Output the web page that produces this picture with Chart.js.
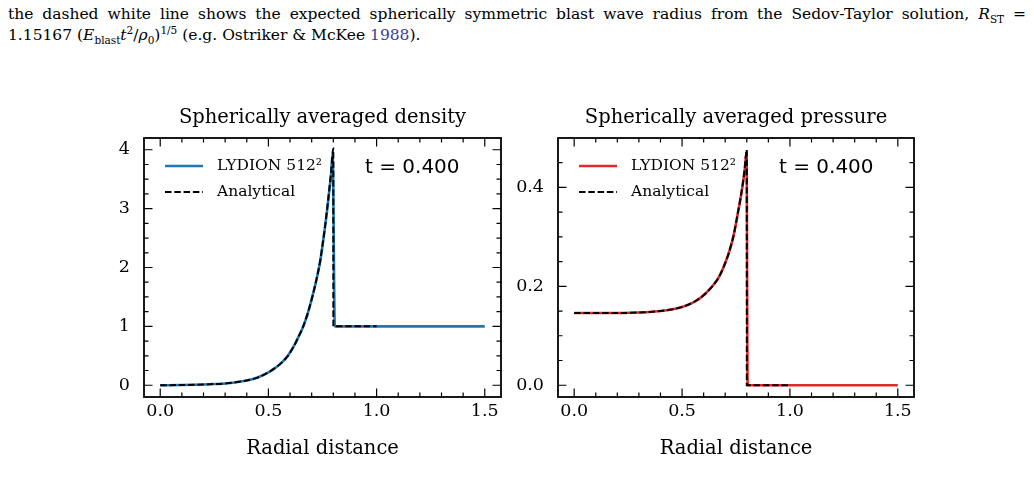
<!DOCTYPE html>
<html>
<head>
<meta charset="utf-8">
<script src="https://cdn.jsdelivr.net/npm/chart.js@4.4.0/dist/chart.umd.min.js"></script>
<style>
  body { margin: 0; width: 1034px; height: 487px; background: #fff; position: relative; overflow: hidden; }
  .cap { position: absolute; left: 8px; width: 1018px; font-family: "DejaVu Serif", serif; font-size: 15.5px; color: #000; white-space: nowrap; line-height: 20px; }
  .cap sub, .cap sup { font-size: 10.5px; line-height: 0; }
  .box { position: absolute; top: 98px; height: 370px; }
</style>
</head>
<body>
<div class="cap" style="top:4px; text-align:justify; text-align-last:justify;">the dashed white line shows the expected spherically symmetric blast wave radius from the Sedov-Taylor solution, <i>R</i><sub>ST</sub> =</div>
<div class="cap" style="top:25px;">1.15167 (<i>E</i><sub>blast</sub><i>t</i><sup>2</sup>/<i>ρ</i><sub>0</sub>)<sup>1/5</sup> (e.g. Ostriker &amp; McKee <span style="color:#3c3c9c">1988</span>).</div>

<div class="box" style="left:94px; width:420px;"><canvas id="density-chart"></canvas></div>
<div class="box" style="left:508px; width:419px;"><canvas id="pressure-chart"></canvas></div>

<script>
// tick labels
const radialTicks = [0, 0.5, 1.0, 1.5];
const densityTicks = [0, 1, 2, 3, 4];
const pressureTicks = [0.0, 0.2, 0.4];

// density, analytical (Sedov-Taylor)
const densityAnalyticX = [0, 0.1, 0.2, 0.25, 0.3, 0.35, 0.4, 0.45, 0.5, 0.53, 0.56, 0.59, 0.62, 0.64, 0.66, 0.68, 0.7, 0.72, 0.74, 0.75, 0.76, 0.77, 0.78, 0.79, 0.8, 0.8001, 1.0];
const densityAnalytic = [0, 0.003, 0.012, 0.02, 0.03, 0.05, 0.08, 0.13, 0.22, 0.29, 0.38, 0.5, 0.68, 0.83, 0.99, 1.2, 1.46, 1.76, 2.13, 2.38, 2.65, 2.95, 3.28, 3.63, 4.02, 1.0, 1.0];

// density, LYDION 512^2
const densitySimX = [0, 0.1, 0.2, 0.25, 0.3, 0.35, 0.4, 0.45, 0.5, 0.53, 0.56, 0.59, 0.62, 0.64, 0.66, 0.68, 0.7, 0.72, 0.74, 0.75, 0.76, 0.77, 0.78, 0.79, 0.797, 0.807, 1.0, 1.5];
const densitySim = [0, 0.003, 0.012, 0.02, 0.03, 0.05, 0.08, 0.13, 0.22, 0.29, 0.38, 0.5, 0.68, 0.83, 0.99, 1.2, 1.46, 1.76, 2.12, 2.37, 2.64, 2.93, 3.26, 3.6, 3.94, 1.0, 1.0, 1.0];

// pressure, analytical
const pressureAnalyticX = [0, 0.1, 0.2, 0.3, 0.35, 0.4, 0.45, 0.5, 0.55, 0.58, 0.61, 0.64, 0.67, 0.7, 0.72, 0.74, 0.76, 0.77, 0.78, 0.79, 0.8, 0.8001, 1.0];
const pressureAnalytic = [0.146, 0.146, 0.146, 0.147, 0.148, 0.15, 0.153, 0.158, 0.167, 0.175, 0.186, 0.2, 0.218, 0.247, 0.272, 0.305, 0.352, 0.376, 0.403, 0.436, 0.476, 0, 0];

// pressure, LYDION 512^2
const pressureSimX = [0, 0.1, 0.2, 0.3, 0.35, 0.4, 0.45, 0.5, 0.55, 0.58, 0.61, 0.64, 0.67, 0.7, 0.72, 0.74, 0.76, 0.77, 0.78, 0.79, 0.799, 0.804, 1.0, 1.5];
const pressureSim = [0.146, 0.146, 0.146, 0.147, 0.148, 0.15, 0.153, 0.158, 0.167, 0.175, 0.186, 0.2, 0.218, 0.247, 0.272, 0.305, 0.351, 0.375, 0.402, 0.434, 0.472, 0, 0, 0];

const serif = '"DejaVu Serif", serif';
const pts = (xs, ys) => xs.map((x, i) => ({ x, y: ys[i] }));

// axes frame with inward ticks on all sides, inset legend and time label
const framePlugin = {
  id: 'frame',
  afterDatasetsDraw(chart, args, opts) {
    const { ctx, chartArea: a, scales: { x, y } } = chart;
    ctx.save();
    ctx.strokeStyle = '#000';
    ctx.lineWidth = 1.2;
    ctx.beginPath();
    const xTick = (v, len) => {
      const px = x.getPixelForValue(v);
      ctx.moveTo(px, a.bottom); ctx.lineTo(px, a.bottom - len);
      ctx.moveTo(px, a.top); ctx.lineTo(px, a.top + len);
    };
    const yTick = (v, len) => {
      const py = y.getPixelForValue(v);
      ctx.moveTo(a.left, py); ctx.lineTo(a.left + len, py);
      ctx.moveTo(a.right, py); ctx.lineTo(a.right - len, py);
    };
    for (let k = Math.ceil(x.min / opts.xMinor); k * opts.xMinor <= x.max; k++) xTick(k * opts.xMinor, 4.5);
    for (let k = Math.ceil(y.min / opts.yMinor); k * opts.yMinor <= y.max; k++) yTick(k * opts.yMinor, 4.5);
    x.ticks.forEach(t => xTick(t.value, 8.5));
    y.ticks.forEach(t => yTick(t.value, 8.5));
    ctx.stroke();

    ctx.lineWidth = 1.8;
    ctx.strokeRect(a.left, a.top, a.width, a.height);

    // legend: simulation first, then analytical
    ctx.font = '15.5px ' + serif;
    ctx.textBaseline = 'middle';
    ctx.textAlign = 'left';
    ctx.fillStyle = '#000';
    [1, 0].forEach((di, row) => {
      const ds = chart.data.datasets[di];
      const ly = a.top + 28 + row * 26;
      ctx.save();
      ctx.strokeStyle = ds.borderColor;
      ctx.lineWidth = ds.borderWidth;
      ctx.setLineDash(ds.borderDash || []);
      ctx.beginPath();
      ctx.moveTo(a.left + 21, ly); ctx.lineTo(a.left + 59, ly);
      ctx.stroke();
      ctx.restore();
      ctx.fillText(ds.label, a.left + 73, ly);
    });

    ctx.font = '20px "DejaVu Sans", sans-serif';
    ctx.fillText(opts.label, a.left + 221, a.top + 29.5);
    ctx.restore();
  }
};

function makeChart(id, title, simX, sim, anX, an, color, yTicks, yMin, yMax, yMinor, yFmt) {
  return new Chart(id, {
    type: 'line',
    data: {
      datasets: [{
        label: 'Analytical',
        data: pts(anX, an),
        borderColor: '#000',
        borderWidth: 2,
        borderDash: [6.5, 2.8],
        pointRadius: 0,
        cubicInterpolationMode: 'monotone',
        order: 0,
      }, {
        label: 'LYDION 512²',
        data: pts(simX, sim),
        borderColor: color,
        borderWidth: 2.6,
        pointRadius: 0,
        cubicInterpolationMode: 'monotone',
        order: 1,
      }],
    },
    options: {
      responsive: true,
      maintainAspectRatio: false,
      animation: false,
      layout: { padding: { right: 13 } },
      scales: {
        x: {
          type: 'linear',
          min: -0.075,
          max: 1.575,
          afterBuildTicks: s => { s.ticks = radialTicks.map(v => ({ value: v })); },
          afterFit: s => { s.height = 71; },
          grid: { display: false, drawTicks: false },
          border: { display: false },
          ticks: { padding: 4, color: '#000', font: { family: serif, size: 17.5 }, maxRotation: 0, autoSkip: false, callback: v => v.toFixed(1) },
          title: { display: true, text: 'Radial distance', color: '#000', font: { family: serif, size: 19.5, weight: 'normal' }, padding: { top: 4, bottom: 7.5 } },
        },
        y: {
          type: 'linear',
          min: yMin,
          max: yMax,
          afterBuildTicks: s => { s.ticks = yTicks.map(v => ({ value: v })); },
          afterFit: s => { s.width = 50; },
          grid: { display: false, drawTicks: false },
          border: { display: false },
          ticks: { padding: 14, color: '#000', font: { family: serif, size: 17.5 }, autoSkip: false, callback: yFmt },
        },
      },
      plugins: {
        legend: { display: false },
        tooltip: { enabled: false },
        title: {
          display: true,
          text: title,
          fullSize: false,
          color: '#000',
          font: { family: serif, size: 19.5, weight: 'normal' },
          padding: { top: 8, bottom: 8.6 },
        },
        frame: { xMinor: 0.1, yMinor: yMinor, label: 't = 0.400' },
      },
    },
    plugins: [framePlugin],
  });
}

const densityChart = makeChart('density-chart', 'Spherically averaged density',
  densitySimX, densitySim, densityAnalyticX, densityAnalytic, '#1f77b4',
  densityTicks, -0.2, 4.2, 0.25, v => v.toFixed(0));

const pressureChart = makeChart('pressure-chart', 'Spherically averaged pressure',
  pressureSimX, pressureSim, pressureAnalyticX, pressureAnalytic, '#dd2a2a',
  pressureTicks, -0.0238, 0.4998, 0.05, v => v.toFixed(1));
</script>
</body>
</html>
